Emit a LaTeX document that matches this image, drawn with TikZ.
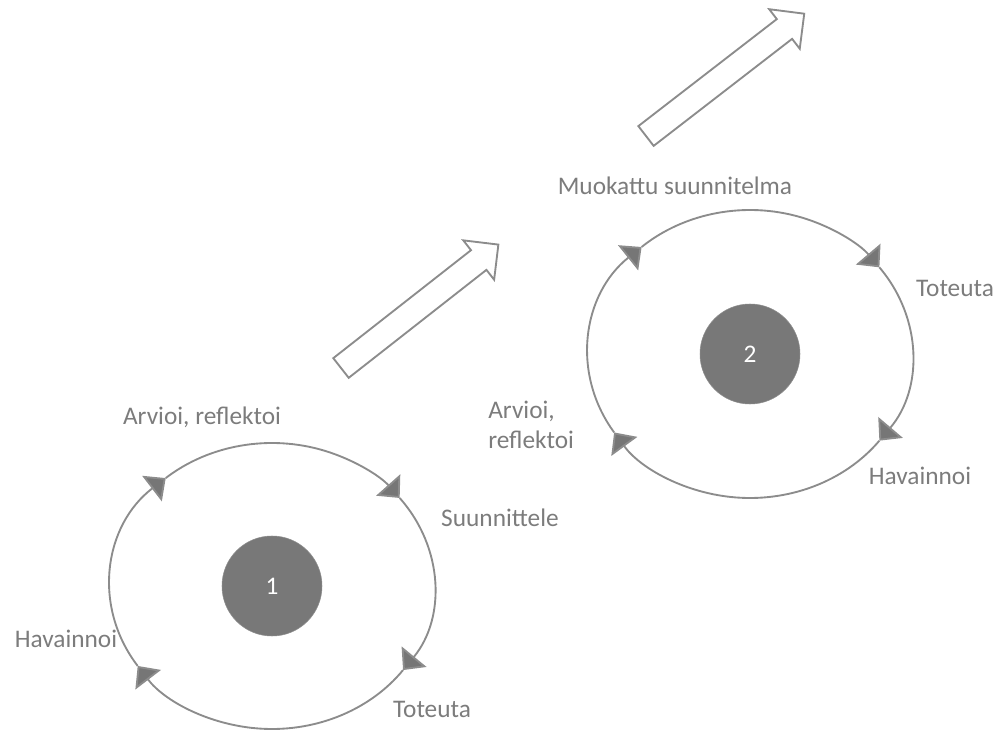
\documentclass[tikz,border=0pt]{standalone}
\usepackage{fontspec}
\setmainfont{Carlito}
\usetikzlibrary{arrows.meta}

\definecolor{linegray}{HTML}{8C8C8C}
\definecolor{tipgray}{HTML}{767676}
\definecolor{textgray}{HTML}{7C7C7C}
\definecolor{hubgray}{HTML}{787878}

\begin{document}
\begin{tikzpicture}[
        x=0.75pt, y=0.75pt,
        cycleline/.style={draw=linegray, line width=1.4pt, -{Triangle[length=13pt, width=24pt, fill=tipgray]}},
        hub/.style={circle, fill=hubgray, draw=linegray, minimum size=75pt, text=white, font=\fontsize{19}{22}\selectfont},
        lbl/.style={text=textgray, font=\fontsize{19}{22}\selectfont, inner sep=0pt},
        bigarrow/.style={draw=linegray, line width=1.4pt, fill=white, line join=miter}
    ]
        \useasboundingbox (0,0) rectangle (1000,729);

        % Cycle 1
        \node[hub] (hub1) at (272,143) {1};
        \draw[cycleline] ([shift={(214:162 and 143)}]hub1.center) arc[start angle=214, end angle=131, x radius=162, y radius=143];
        \draw[cycleline] ([shift={(131:162 and 143)}]hub1.center) arc[start angle=131, end angle=38, x radius=162, y radius=143];
        \draw[cycleline] ([shift={(38:162 and 143)}]hub1.center) arc[start angle=38, end angle=-36, x radius=162, y radius=143];
        \draw[cycleline] ([shift={(-36:162 and 143)}]hub1.center) arc[start angle=-36, end angle=-146, x radius=162, y radius=143];

        \node[lbl, anchor=base] (arvioi1) at (202,304) {Arvioi, reflektoi};
        \node[lbl, anchor=base] (suunnittele1) at (500,202) {Suunnittele};
        \node[lbl, anchor=base] (toteuta1) at (432,12) {Toteuta};
        \node[lbl, anchor=base] (havainnoi1) at (66,82) {Havainnoi};

        % Cycle 2
        \node[hub] (hub2) at (750,375) {2};
        \draw[cycleline] ([shift={(213:162 and 144)}]hub2.center) arc[start angle=213, end angle=132, x radius=162, y radius=144];
        \draw[cycleline] ([shift={(132:162 and 144)}]hub2.center) arc[start angle=132, end angle=37, x radius=162, y radius=144];
        \draw[cycleline] ([shift={(37:162 and 144)}]hub2.center) arc[start angle=37, end angle=-37, x radius=162, y radius=144];
        \draw[cycleline] ([shift={(-37:162 and 144)}]hub2.center) arc[start angle=-37, end angle=-147, x radius=162, y radius=144];

        \node[lbl, anchor=base] (muokattu) at (675,534) {Muokattu suunnitelma};
        \node[lbl, anchor=base] (toteuta2) at (955,432) {Toteuta};
        \node[lbl, anchor=base] (havainnoi2) at (920,244) {Havainnoi};
        \node[lbl, anchor=west, align=left] (arvioi2) at (488,304) {Arvioi,\\reflektoi};

        % Progress arrows
        \begin{scope}[shift={(341,361)}, rotate=38.1]
            \draw[bigarrow] (0,-12.5) -- (175,-12.5) -- (175,-25) -- (200,0) -- (175,25) -- (175,12.5) -- (0,12.5) -- cycle;
        \end{scope}
        \begin{scope}[shift={(646,593)}, rotate=37.7]
            \draw[bigarrow] (0,-12.5) -- (175,-12.5) -- (175,-25) -- (200,0) -- (175,25) -- (175,12.5) -- (0,12.5) -- cycle;
        \end{scope}
    \end{tikzpicture}
\end{document}
